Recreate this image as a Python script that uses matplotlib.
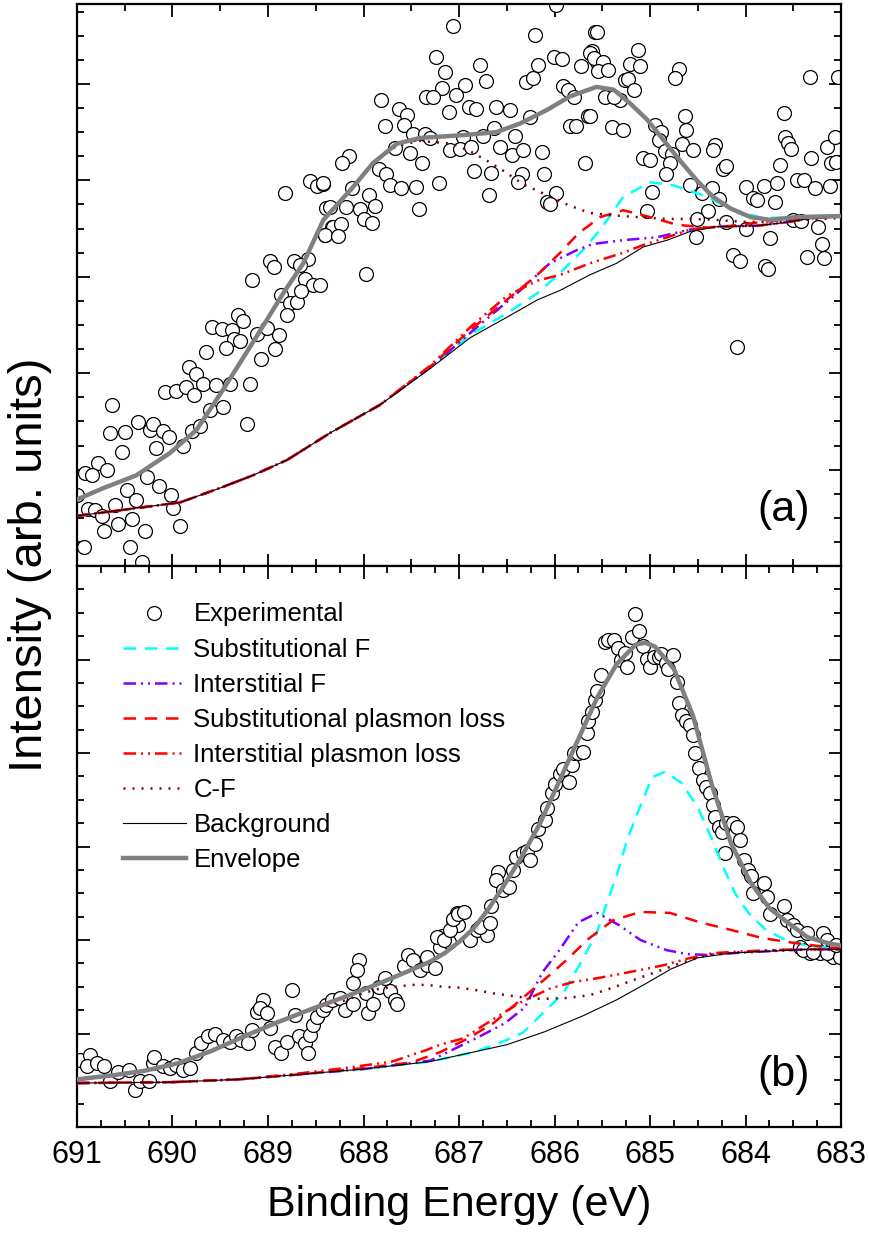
import matplotlib
matplotlib.use("Agg")
import matplotlib.pyplot as plt
from matplotlib.ticker import MultipleLocator

plt.rcParams['font.family'] = ['Liberation Sans', 'DejaVu Sans']

# ---------------- panel (a) ----------------
exp_a_x = [688.56, 688.49, 688.42, 688.82, 688.39, 688.33, 688.40, 688.98, 688.94, 688.73, 688.58, 688.67,
           688.61, 688.53, 689.17, 688.86, 688.77, 688.70, 688.65, 688.80, 689.31, 689.26, 689.12, 689.01,
           688.89, 688.93, 689.59, 689.48, 689.38, 689.36, 689.29, 689.44, 689.65, 689.07, 689.83, 689.75,
           689.68, 689.54, 689.40, 689.19, 690.08, 689.96, 689.86, 689.77, 689.61, 689.47, 689.22, 690.63,
           690.65, 690.50, 690.36, 690.24, 690.20, 690.10, 690.04, 690.17, 690.53, 689.80, 689.71, 689.89,
           690.78, 690.69, 690.92, 690.84, 690.27, 690.14, 690.02, 690.48, 690.38, 690.60, 689.99, 690.88,
           690.81, 690.74, 690.42, 690.57, 690.72, 690.29, 689.92, 690.93, 690.44, 690.32, 691.00,
           687.06, 686.20, 685.58, 687.24, 686.78, 687.15, 686.72, 687.18, 686.94, 687.35, 687.27, 687.03,
           687.82, 687.63, 687.54, 687.11, 686.90, 686.82, 686.61, 686.47, 686.30, 686.22, 686.17, 686.01,
           685.92, 685.72, 685.61, 685.56, 685.91, 685.86, 685.80, 685.65, 685.84, 685.77, 686.26, 687.77,
           687.58, 687.48, 687.36, 687.30, 686.96, 686.75, 686.63, 686.41, 686.57, 686.45, 686.33, 686.13,
           687.09, 686.99, 686.87, 687.67, 687.51, 687.39, 688.15, 688.22, 687.84, 687.76, 687.72, 687.61,
           687.45, 687.21, 686.84, 686.66, 686.34, 686.38, 686.11, 685.98, 686.08, 686.05, 686.69, 688.42,
           688.12, 687.94, 688.35, 688.18, 688.04, 687.88, 688.00, 687.91, 688.32, 688.24, 688.40, 688.27,
           687.42, 687.97, 688.46, 685.68, 685.98,
           685.56, 685.63, 685.59, 685.49, 685.54, 685.44, 685.21, 685.13, 685.10, 685.26, 685.23, 685.17,
           685.31, 685.47, 685.38, 685.63, 685.40, 685.28, 684.70, 684.74, 683.60, 683.33, 683.03, 684.63,
           684.62, 684.67, 684.55, 684.95, 684.88, 684.91, 684.84, 684.77, 685.07, 685.00, 684.79, 684.83,
           684.58, 684.32, 684.34, 684.24, 684.20, 684.46, 684.35, 684.28, 684.39, 685.03, 684.51, 684.52,
           684.00, 683.81, 683.92, 683.88, 683.67, 683.69, 683.64, 683.31, 683.59, 683.55, 683.52, 683.15,
           683.06, 683.10, 683.05, 683.46, 683.39, 683.27, 683.12, 683.50, 683.42, 683.24, 683.74, 683.20,
           683.36, 683.18, 684.13, 684.06, 683.80, 683.76, 684.09, 684.20, 683.99, 684.98]
exp_a_y = [3.99, 3.94, 3.96, 3.87, 3.71, 3.52, 3.43, 3.16, 3.10, 3.16, 3.18, 3.12,
           2.98, 2.91, 2.97, 2.81, 2.73, 2.74, 2.85, 2.60, 2.60, 2.54, 2.41, 2.47,
           2.40, 2.25, 2.48, 2.46, 2.45, 2.35, 2.33, 2.26, 2.22, 2.15, 2.06, 1.99,
           1.89, 1.88, 1.89, 1.89, 1.80, 1.82, 1.86, 1.77, 1.62, 1.65, 1.47, 1.67,
           1.38, 1.39, 1.49, 1.41, 1.47, 1.40, 1.34, 1.22, 1.18, 1.40, 1.45, 1.25,
           1.07, 1.00, 0.96, 0.94, 0.92, 0.83, 0.74, 0.79, 0.69, 0.63, 0.60, 0.59,
           0.58, 0.52, 0.49, 0.44, 0.36, 0.36, 0.42, 0.20, 0.20, 0.04, 0.74,
           5.60, 5.51, 5.54, 5.28, 5.20, 5.12, 5.03, 4.96, 4.99, 4.87, 4.87, 4.89,
           4.83, 4.74, 4.68, 4.71, 4.76, 4.74, 4.76, 4.73, 5.02, 5.06, 5.20, 5.28,
           5.26, 5.19, 5.34, 5.23, 4.98, 4.94, 4.87, 4.67, 4.56, 4.56, 4.66, 4.56,
           4.57, 4.48, 4.48, 4.44, 4.45, 4.46, 4.54, 4.46, 4.35, 4.26, 4.32, 4.29,
           4.31, 4.33, 4.35, 4.34, 4.28, 4.18, 4.25, 4.18, 4.12, 4.07, 3.95, 3.92,
           3.93, 3.97, 4.10, 4.08, 4.07, 3.98, 4.07, 3.87, 3.78, 3.75, 3.85, 3.97,
           3.92, 3.85, 3.72, 3.72, 3.70, 3.73, 3.60, 3.56, 3.52, 3.55, 3.43, 3.42,
           3.70, 3.03, 2.91, 4.18, 5.82,
           5.54, 5.32, 5.27, 5.23, 5.13, 5.15, 5.21, 5.35, 5.19, 5.04, 5.05, 4.94,
           4.83, 4.87, 4.87, 4.67, 4.55, 4.52, 5.16, 5.06, 4.70, 5.07, 5.07, 4.67,
           4.52, 4.38, 4.31, 4.57, 4.50, 4.42, 4.30, 4.27, 4.23, 4.21, 4.18, 4.07,
           3.95, 4.37, 4.32, 4.12, 4.15, 3.87, 3.92, 3.81, 3.68, 3.68, 3.60, 3.41,
           3.93, 3.94, 3.82, 3.80, 3.97, 3.78, 4.16, 4.23, 4.45, 4.39, 4.33, 4.35,
           4.45, 4.18, 4.19, 4.00, 4.00, 3.92, 3.94, 3.59, 3.58, 3.52, 3.40, 3.34,
           3.21, 3.19, 3.23, 3.16, 3.11, 3.08, 2.27, 3.57, 3.50, 3.88]

sub_a_x = [691.0, 689.92, 689.50, 689.16, 688.80, 688.35, 687.83, 687.30, 686.88, 686.50, 686.18,
           685.94, 685.70, 685.52, 685.28, 685.0, 684.76, 684.40, 684.13, 683.82, 683.36, 683.0]
sub_a_y = [0.52, 0.66, 0.81, 0.94, 1.10, 1.38, 1.67, 2.06, 2.40, 2.62, 2.83,
           3.04, 3.28, 3.49, 3.83, 3.98, 3.95, 3.83, 3.69, 3.61, 3.62, 3.63]
int_a_x = [691.0, 689.92, 689.50, 689.16, 688.80, 688.35, 687.83, 687.30, 686.88, 686.39, 686.05,
           685.76, 685.60, 685.28, 684.93, 684.58, 684.30, 683.88, 683.61, 683.36, 683.0]
int_a_y = [0.52, 0.66, 0.81, 0.94, 1.10, 1.38, 1.67, 2.06, 2.42, 2.83, 3.14,
           3.28, 3.34, 3.38, 3.41, 3.49, 3.52, 3.53, 3.56, 3.60, 3.63]
subpl_a_x = [691.0, 689.92, 689.50, 689.16, 688.80, 688.35, 687.83, 687.30, 686.88, 686.50, 686.18,
             685.94, 685.75, 685.52, 685.28, 685.00, 684.72, 684.40, 684.13, 683.82, 683.36, 683.0]
subpl_a_y = [0.52, 0.66, 0.81, 0.94, 1.10, 1.38, 1.67, 2.07, 2.45, 2.76, 3.02,
             3.25, 3.45, 3.62, 3.69, 3.62, 3.54, 3.51, 3.53, 3.57, 3.61, 3.63]
intpl_a_x = [691.0, 689.92, 689.50, 689.16, 688.80, 688.35, 687.83, 687.30, 686.88, 686.50, 686.18,
             685.94, 685.63, 685.28, 685.07, 684.82, 684.58, 684.30, 683.88, 683.61, 683.36, 683.0]
intpl_a_y = [0.52, 0.66, 0.81, 0.94, 1.10, 1.38, 1.67, 2.08, 2.48, 2.80, 2.96,
             3.02, 3.14, 3.25, 3.33, 3.41, 3.49, 3.52, 3.53, 3.56, 3.60, 3.63]
cf_a_x = [691.00, 690.72, 690.38, 690.03, 689.75, 689.47, 689.12, 688.84, 688.63, 688.42, 688.11,
          687.90, 687.65, 687.41, 687.30, 687.07, 686.88, 686.70, 686.52, 686.33, 686.13, 685.92,
          685.71, 685.61, 685.42, 685.14, 684.82, 684.58, 684.30, 684.03, 683.74, 683.0]
cf_a_y = [0.69, 0.81, 0.94, 1.17, 1.41, 1.83, 2.38, 2.83, 3.14, 3.59, 3.93,
          4.18, 4.36, 4.41, 4.40, 4.38, 4.30, 4.20, 4.09, 3.96, 3.87, 3.77,
          3.69, 3.66, 3.64, 3.62, 3.60, 3.60, 3.59, 3.57, 3.57, 3.61]
bg_a_x = [691.0, 689.92, 689.50, 689.16, 688.80, 688.35, 687.83, 687.30, 686.88, 686.50, 686.18,
          685.94, 685.63, 685.35, 685.07, 684.82, 684.58, 684.30, 683.88, 683.61, 683.36, 683.0]
bg_a_y = [0.52, 0.66, 0.81, 0.94, 1.10, 1.38, 1.67, 2.05, 2.37, 2.58, 2.76,
          2.86, 3.02, 3.14, 3.31, 3.38, 3.47, 3.52, 3.53, 3.56, 3.60, 3.63]
env_a_x = [691.00, 690.72, 690.38, 690.03, 689.75, 689.47, 689.12, 688.84, 688.63, 688.42, 688.11,
           687.90, 687.65, 687.41, 686.95, 686.61, 686.36, 686.08, 685.84, 685.56, 685.38, 685.21,
           685.03, 684.86, 684.69, 684.51, 684.34, 684.16, 683.95, 683.74, 683.46, 683.0]
env_a_y = [0.69, 0.81, 0.94, 1.17, 1.41, 1.83, 2.38, 2.83, 3.14, 3.59, 3.93,
           4.18, 4.38, 4.44, 4.47, 4.50, 4.59, 4.73, 4.87, 4.97, 4.94, 4.80,
           4.63, 4.42, 4.21, 4.00, 3.83, 3.71, 3.62, 3.59, 3.62, 3.63]

# ---------------- panel (b) ----------------
exp_b_x = [690.97, 690.86, 690.90, 690.79, 690.72, 690.65, 690.57, 690.46, 690.39, 690.34, 690.25, 690.20,
           690.19, 690.10, 690.03, 689.96, 689.89, 689.82, 689.75, 689.70, 689.63, 689.56, 689.47, 689.40,
           689.33, 689.28, 689.21, 689.17, 689.12, 689.05, 689.08, 689.01, 688.98, 688.93, 688.86, 688.80,
           688.75, 688.72, 688.68, 688.61, 688.58, 688.56, 688.53, 688.49, 688.42, 688.39, 688.33, 688.25,
           688.19, 688.11, 688.11, 688.05, 688.07, 687.97, 687.95, 687.90, 687.84, 687.78, 687.72, 687.67,
           687.65, 687.58, 687.53, 687.48, 687.41, 687.34, 687.25, 687.20, 687.18, 687.11, 687.06, 687.02,
           687.01,
           687.34, 687.23, 687.16, 687.09, 687.06, 687.01, 686.95, 686.88, 686.81, 686.71, 686.78, 686.68,
           686.66, 686.59, 686.61, 686.54, 686.48, 686.43, 686.40, 686.33, 686.29, 686.26, 686.20, 686.17,
           686.10, 686.08, 686.03, 685.99, 685.94, 685.91, 685.85, 685.82, 685.80, 685.75, 685.70, 685.66,
           685.65, 685.61, 685.58, 685.56, 685.51, 685.47, 685.44, 685.38, 685.33, 685.30, 685.24, 685.26,
           685.19, 685.16, 685.12, 685.07, 685.03, 685.00, 684.96, 684.91, 684.88, 684.83, 684.81, 684.76,
           684.72, 684.70, 684.67, 684.62, 684.58, 684.55, 684.53, 684.49, 684.44, 684.41, 684.37, 684.34,
           684.32, 684.28, 684.25, 684.21, 684.20, 684.13, 684.09, 684.06, 684.02, 683.97, 683.94, 683.92,
           683.81, 683.78, 683.74, 683.60, 683.57, 683.50, 683.46, 683.36, 683.19, 683.15, 683.43, 683.32,
           683.22, 683.10, 683.08, 683.40, 683.29, 683.15, 683.01, 683.05]
exp_b_y = [0.72, 0.77, 0.65, 0.68, 0.65, 0.49, 0.59, 0.61, 0.40, 0.49, 0.49, 0.68,
           0.75, 0.65, 0.63, 0.66, 0.61, 0.63, 0.79, 0.90, 0.97, 1.00, 0.93, 0.91,
           0.97, 0.93, 0.90, 1.04, 1.23, 1.36, 1.27, 1.22, 1.06, 0.86, 0.79, 0.91,
           1.47, 1.20, 0.97, 0.90, 0.79, 0.98, 1.09, 1.18, 1.25, 1.31, 1.36, 1.38,
           1.25, 1.32, 1.54, 1.79, 1.68, 1.43, 1.22, 1.32, 1.50, 1.59, 1.45, 1.36,
           1.32, 1.72, 1.84, 1.79, 1.68, 1.73, 1.70, 1.93, 2.04, 1.98, 2.21, 2.29,
           2.16,
           1.82, 2.03, 2.00, 2.11, 2.23, 2.28, 2.30, 2.00, 2.11, 2.05, 2.14, 2.18,
           2.36, 2.73, 2.64, 2.53, 2.57, 2.75, 2.89, 2.93, 2.95, 2.86, 3.03, 3.19,
           3.28, 3.41, 3.57, 3.67, 3.78, 3.83, 3.69, 3.87, 4.00, 4.00, 4.01, 4.21,
           4.34, 4.44, 4.57, 4.66, 4.83, 5.19, 5.21, 5.21, 5.12, 4.99, 4.92, 5.07,
           5.24, 5.49, 5.30, 5.14, 5.01, 4.92, 5.03, 5.03, 5.06, 4.96, 4.90, 5.05,
           4.76, 4.53, 4.41, 4.34, 4.30, 4.19, 4.00, 3.84, 3.71, 3.64, 3.57, 3.44,
           3.32, 3.21, 3.16, 2.93, 3.25, 3.25, 3.21, 3.07, 2.86, 2.75, 2.68, 2.50,
           2.61, 2.46, 2.28, 2.36, 2.21, 2.16, 2.11, 2.07, 2.07, 2.00, 1.93, 1.86,
           1.86, 1.89, 1.82, 1.89, 1.87, 1.86, 1.82, 1.95]

sub_b_x = [691.0, 690.0, 689.3, 688.7, 688.0, 687.3, 686.85, 686.57, 686.33, 686.12, 685.91, 685.73,
           685.56, 685.45, 685.34, 685.24, 685.13, 684.98, 684.84, 684.67, 684.50, 684.36, 684.25,
           684.11, 683.97, 683.79, 683.58, 683.31, 683.0]
sub_b_y = [0.47, 0.48, 0.51, 0.56, 0.62, 0.70, 0.80, 0.90, 1.01, 1.22, 1.43, 1.75,
           2.07, 2.40, 2.72, 3.07, 3.36, 3.74, 3.80, 3.68, 3.42, 3.10, 2.82,
           2.50, 2.29, 2.11, 2.00, 1.93, 1.91]
int_b_x = [691.0, 690.0, 689.3, 688.7, 688.0, 687.3, 686.80, 686.52, 686.31, 686.13, 685.95, 685.75,
           685.55, 685.31, 685.10, 684.82, 684.61, 684.40, 684.13, 683.75, 683.35, 683.0]
int_b_y = [0.47, 0.48, 0.51, 0.56, 0.62, 0.71, 0.96, 1.11, 1.28, 1.65, 1.89, 2.19,
           2.29, 2.15, 2.00, 1.89, 1.85, 1.84, 1.86, 1.88, 1.90, 1.90]
subpl_b_x = [691.0, 690.0, 689.3, 688.7, 688.0, 687.5, 687.20, 686.92, 686.64, 686.39, 686.23, 686.08,
             685.87, 685.66, 685.39, 685.10, 684.79, 684.48, 684.16, 683.82, 683.50, 683.19, 683.0]
subpl_b_y = [0.47, 0.48, 0.51, 0.56, 0.63, 0.69, 0.80, 0.94, 1.11, 1.33, 1.47, 1.60,
             1.79, 2.00, 2.21, 2.30, 2.29, 2.19, 2.11, 2.02, 1.97, 1.93, 1.91]
intpl_b_x = [691.0, 690.0, 689.3, 688.7, 688.2, 687.7, 687.35, 687.20, 686.95, 686.80, 686.60, 686.36,
             686.05, 685.81, 685.56, 685.35, 685.10, 684.86, 684.61, 684.34, 684.0, 683.5, 683.0]
intpl_b_y = [0.47, 0.48, 0.51, 0.57, 0.63, 0.70, 0.82, 0.88, 0.95, 1.05, 1.18, 1.33,
             1.48, 1.55, 1.59, 1.63, 1.68, 1.73, 1.80, 1.86, 1.88, 1.90, 1.90]
cf_b_x = [691.0, 690.65, 690.30, 689.95, 689.60, 689.25, 688.90, 688.55, 688.35, 688.17, 688.01, 687.83,
          687.65, 687.51, 687.34, 687.17, 686.99, 686.80, 686.64, 686.36, 686.15, 685.87, 685.63, 685.39,
          685.18, 684.93, 684.69, 684.40, 684.06, 683.71, 683.35, 683.0]
cf_b_y = [0.51, 0.55, 0.60, 0.68, 0.81, 0.97, 1.12, 1.26, 1.31, 1.36, 1.43, 1.48,
          1.50, 1.52, 1.52, 1.50, 1.49, 1.46, 1.43, 1.39, 1.37, 1.38, 1.41, 1.49,
          1.57, 1.66, 1.75, 1.84, 1.87, 1.89, 1.90, 1.90]
bg_b_x = [691.0, 690.0, 689.3, 688.7, 688.0, 687.3, 686.9, 686.5, 686.1, 685.7, 685.35, 685.05,
          684.78, 684.5, 684.15, 683.75, 683.35, 683.0]
bg_b_y = [0.47, 0.48, 0.51, 0.56, 0.62, 0.70, 0.79, 0.88, 1.02, 1.19, 1.36, 1.53,
          1.69, 1.81, 1.86, 1.88, 1.90, 1.90]
env_b_x = [691.0, 690.65, 690.30, 689.95, 689.60, 689.25, 688.90, 688.55, 688.20, 687.85, 687.50,
           687.30, 687.15, 687.00, 686.85, 686.70, 686.55, 686.35, 686.15, 685.95, 685.75, 685.55,
           685.35, 685.15, 685.05, 684.95, 684.75, 684.55, 684.35, 684.15, 683.95, 683.75, 683.55,
           683.35, 683.15, 683.0]
env_b_y = [0.51, 0.55, 0.60, 0.68, 0.81, 0.97, 1.12, 1.26, 1.39, 1.53, 1.68,
           1.77, 1.86, 1.98, 2.12, 2.32, 2.55, 2.88, 3.25, 3.70, 4.15, 4.60,
           4.95, 5.16, 5.18, 5.14, 4.90, 4.40, 3.65, 3.03, 2.62, 2.34, 2.18,
           2.03, 1.97, 1.94]

CYAN = '#00FFFF'
PURPLE = '#8000FF'
RED = '#FF0000'
DKRED = '#800000'
GRAY = '#808080'
dash = (0, (5, 3.5))
dashdotdot = (0, (5, 2, 0.8, 2, 0.8, 2))
dotted = (0, (0.8, 2.8))

fig = plt.figure(figsize=(8.69, 12.34), dpi=100)
ax_a = fig.add_axes([0.0886, 0.5413, 0.8792, 0.4555])
ax_b = fig.add_axes([0.0886, 0.0867, 0.8792, 0.4546])


def draw_panel(ax, ex, ey, sx, sy, ix, iy, spx, spy, ipx, ipy, cx, cy, bx, by, nx, ny):
    ax.plot(ex, ey, 'o', ms=10, mfc='white', mec='black', mew=0.9, ls='none',
            label='Experimental', zorder=2)
    ax.plot(sx, sy, color=CYAN, lw=1.8, ls=dash, label='Substitutional F', zorder=3)
    ax.plot(ix, iy, color=PURPLE, lw=1.8, ls=dashdotdot, label='Interstitial F', zorder=3)
    ax.plot(spx, spy, color=RED, lw=1.8, ls=dash, label='Substitutional plasmon loss', zorder=3)
    ax.plot(ipx, ipy, color=RED, lw=1.8, ls=dashdotdot, label='Interstitial plasmon loss', zorder=3)
    ax.plot(cx, cy, color=DKRED, lw=1.8, ls=dotted, label='C-F', zorder=3)
    ax.plot(bx, by, color='black', lw=0.8, label='Background', zorder=3)
    ax.plot(nx, ny, color=GRAY, lw=3.2, label='Envelope', zorder=4,
            solid_joinstyle='round')
    ax.set_xlim(691, 683)
    ax.xaxis.set_major_locator(MultipleLocator(1))
    ax.yaxis.set_major_locator(MultipleLocator(1))
    ax.yaxis.set_minor_locator(MultipleLocator(0.25))
    ax.tick_params(which='both', direction='in', top=True, right=True, labelleft=False, width=1.3)
    ax.tick_params(which='major', length=9)
    ax.tick_params(which='minor', length=5)
    for s in ax.spines.values():
        s.set_linewidth(1.6)


draw_panel(ax_a, exp_a_x, exp_a_y, sub_a_x, sub_a_y, int_a_x, int_a_y, subpl_a_x, subpl_a_y,
           intpl_a_x, intpl_a_y, cf_a_x, cf_a_y, bg_a_x, bg_a_y, env_a_x, env_a_y)
draw_panel(ax_b, exp_b_x, exp_b_y, sub_b_x, sub_b_y, int_b_x, int_b_y, subpl_b_x, subpl_b_y,
           intpl_b_x, intpl_b_y, cf_b_x, cf_b_y, bg_b_x, bg_b_y, env_b_x, env_b_y)

ax_a.set_ylim(0, 5.83)
ax_a.xaxis.set_minor_locator(MultipleLocator(0.5))
ax_a.tick_params(labelbottom=False)
ax_b.set_ylim(0, 6.0)
ax_b.xaxis.set_minor_locator(MultipleLocator(0.25))
ax_b.tick_params(axis='x', labelsize=22, pad=9)
ax_b.set_xlabel('Binding Energy (eV)', fontsize=31, labelpad=11)

ax_a.text(0.925, 0.10, '(a)', transform=ax_a.transAxes, fontsize=31, ha='center', va='center')
ax_b.text(0.925, 0.093, '(b)', transform=ax_b.transAxes, fontsize=31, ha='center', va='center')
fig.text(0.035, 0.542, 'Intensity (arb. units)', rotation=90, fontsize=34, ha='center', va='center')

ax_b.legend(loc='upper left', bbox_to_anchor=(0.06, 0.935), frameon=False, fontsize=18.5,
            numpoints=1, handlelength=2.45, handletextpad=0.3, labelspacing=0.43,
            borderpad=0, borderaxespad=0)

fig.savefig('out.png', dpi=100)
